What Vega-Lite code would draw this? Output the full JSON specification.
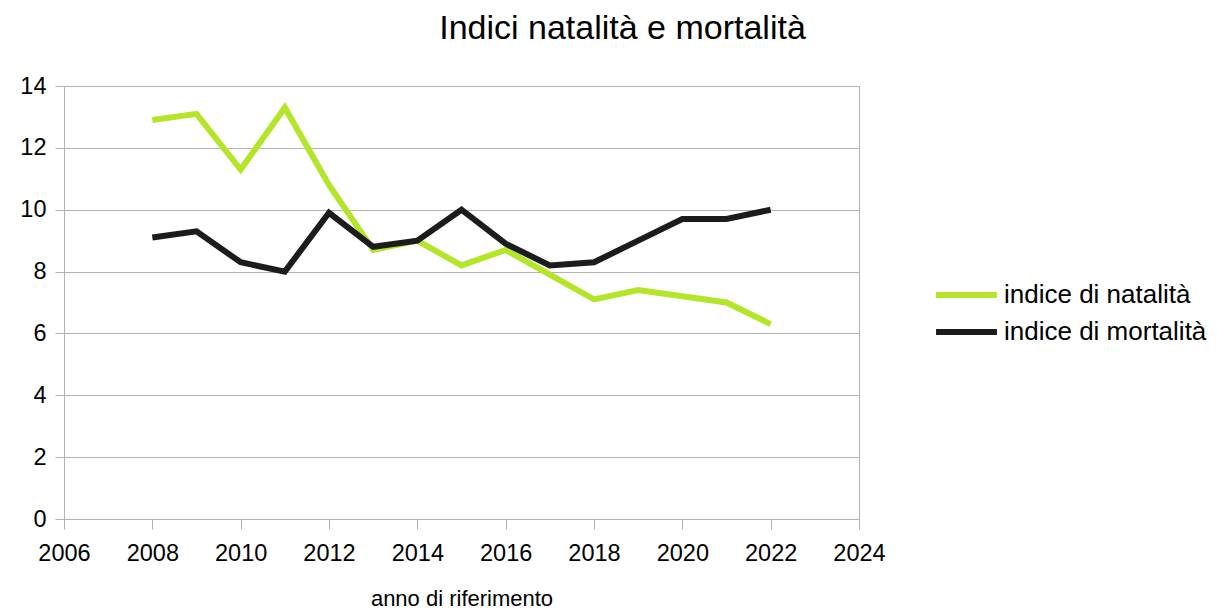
{
  "$schema": "https://vega.github.io/schema/vega-lite/v6.json",
  "width": 795,
  "height": 433,
  "autosize": {"type": "none"},
  "padding": {"left": 64, "top": 86, "right": 359, "bottom": 94},
  "background": "white",
  "title": {
    "text": "Indici natalità e mortalità",
    "font": "Liberation Sans",
    "fontSize": 34,
    "fontWeight": "normal",
    "color": "#000000",
    "anchor": "middle",
    "frame": "group",
    "baseline": "alphabetic",
    "offset": 1,
    "dx": 161
  },
  "config": {
    "font": "Liberation Sans",
    "view": {"stroke": "#b3b3b3", "strokeWidth": 1}
  },
  "data": {
    "values": [
      {"anno": 2008, "serie": "indice di natalità", "valore": 12.9},
      {"anno": 2009, "serie": "indice di natalità", "valore": 13.1},
      {"anno": 2010, "serie": "indice di natalità", "valore": 11.3},
      {"anno": 2011, "serie": "indice di natalità", "valore": 13.3},
      {"anno": 2012, "serie": "indice di natalità", "valore": 10.8},
      {"anno": 2013, "serie": "indice di natalità", "valore": 8.7},
      {"anno": 2014, "serie": "indice di natalità", "valore": 9.0},
      {"anno": 2015, "serie": "indice di natalità", "valore": 8.2},
      {"anno": 2016, "serie": "indice di natalità", "valore": 8.7},
      {"anno": 2017, "serie": "indice di natalità", "valore": 7.9},
      {"anno": 2018, "serie": "indice di natalità", "valore": 7.1},
      {"anno": 2019, "serie": "indice di natalità", "valore": 7.4},
      {"anno": 2020, "serie": "indice di natalità", "valore": 7.2},
      {"anno": 2021, "serie": "indice di natalità", "valore": 7.0},
      {"anno": 2022, "serie": "indice di natalità", "valore": 6.3},
      {"anno": 2008, "serie": "indice di mortalità", "valore": 9.1},
      {"anno": 2009, "serie": "indice di mortalità", "valore": 9.3},
      {"anno": 2010, "serie": "indice di mortalità", "valore": 8.3},
      {"anno": 2011, "serie": "indice di mortalità", "valore": 8.0},
      {"anno": 2012, "serie": "indice di mortalità", "valore": 9.9},
      {"anno": 2013, "serie": "indice di mortalità", "valore": 8.8},
      {"anno": 2014, "serie": "indice di mortalità", "valore": 9.0},
      {"anno": 2015, "serie": "indice di mortalità", "valore": 10.0},
      {"anno": 2016, "serie": "indice di mortalità", "valore": 8.9},
      {"anno": 2017, "serie": "indice di mortalità", "valore": 8.2},
      {"anno": 2018, "serie": "indice di mortalità", "valore": 8.3},
      {"anno": 2019, "serie": "indice di mortalità", "valore": 9.0},
      {"anno": 2020, "serie": "indice di mortalità", "valore": 9.7},
      {"anno": 2021, "serie": "indice di mortalità", "valore": 9.7},
      {"anno": 2022, "serie": "indice di mortalità", "valore": 10.0}
    ]
  },
  "mark": {"type": "line", "strokeWidth": 6, "strokeJoin": "miter", "strokeCap": "butt"},
  "encoding": {
    "x": {
      "field": "anno",
      "type": "quantitative",
      "scale": {"domain": [2006, 2024], "nice": false, "zero": false},
      "axis": {
        "values": [2006, 2008, 2010, 2012, 2014, 2016, 2018, 2020, 2022, 2024],
        "format": "d",
        "title": "anno di riferimento",
        "titleFont": "Liberation Sans",
        "titleFontSize": 22,
        "titleFontWeight": "normal",
        "titleColor": "#000000",
        "titlePadding": 24,
        "labelFont": "Liberation Sans",
        "labelFontSize": 23.5,
        "labelColor": "#000000",
        "labelPadding": 12,
        "labelFlush": false,
        "tickSize": 10,
        "tickColor": "#b3b3b3",
        "domainColor": "#b3b3b3",
        "grid": false
      }
    },
    "y": {
      "field": "valore",
      "type": "quantitative",
      "scale": {"domain": [0, 14], "nice": false},
      "axis": {
        "values": [0, 2, 4, 6, 8, 10, 12, 14],
        "title": null,
        "labelFont": "Liberation Sans",
        "labelFontSize": 23.5,
        "labelColor": "#000000",
        "labelPadding": 9,
        "tickSize": 9,
        "tickColor": "#b3b3b3",
        "domainColor": "#b3b3b3",
        "grid": true,
        "gridColor": "#b3b3b3",
        "gridWidth": 1
      }
    },
    "color": {
      "field": "serie",
      "type": "nominal",
      "scale": {
        "domain": ["indice di natalità", "indice di mortalità"],
        "range": ["#b4e52b", "#1c1c1c"]
      },
      "legend": {
        "title": null,
        "orient": "none",
        "legendX": 884.5,
        "legendY": 191,
        "symbolType": "M-2.03,0H2.03",
        "symbolSize": 900,
        "symbolStrokeWidth": 6,
        "labelFont": "Liberation Sans",
        "labelFontSize": 26,
        "labelColor": "#000000",
        "labelOffset": 19.5,
        "rowPadding": 6,
        "labelLimit": 400
      }
    }
  }
}
